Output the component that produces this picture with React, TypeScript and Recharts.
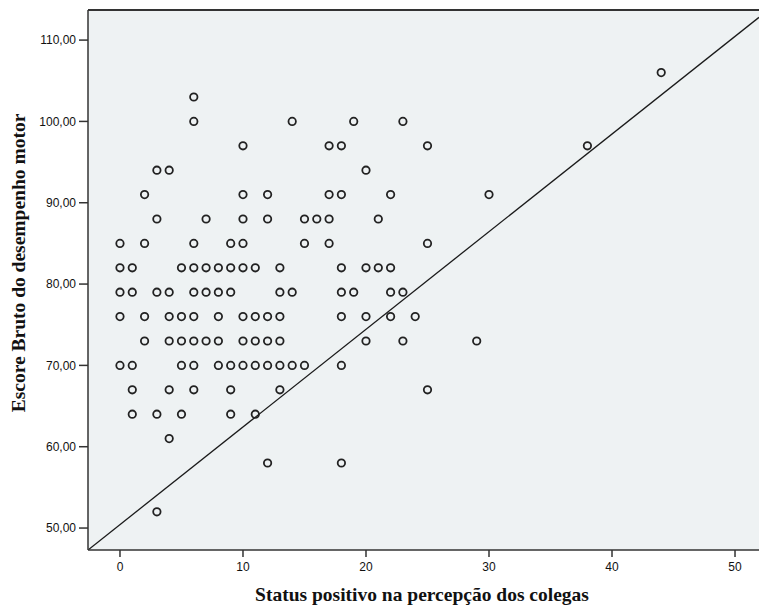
import {
  ScatterChart, Scatter, XAxis, YAxis, CartesianGrid, ReferenceLine, Label,
} from "recharts";

// escore bruto (eixo Y) e status positivo (eixo X)
const scoreLevels = [52, 58, 61, 64, 67, 70, 73, 76, 79, 82, 85, 88, 91, 94, 97, 100, 103, 106];
const statusAtLevel = [
  [3],
  [12, 18],
  [4],
  [1, 3, 5, 9, 11],
  [1, 4, 6, 9, 13, 25],
  [0, 1, 5, 6, 8, 9, 10, 11, 12, 13, 14, 15, 18],
  [2, 4, 5, 6, 7, 8, 10, 11, 12, 13, 20, 23, 29],
  [0, 2, 4, 5, 6, 8, 10, 11, 12, 13, 18, 20, 22, 24],
  [0, 1, 3, 4, 6, 7, 8, 9, 13, 14, 18, 19, 22, 23],
  [0, 1, 5, 6, 7, 8, 9, 10, 11, 13, 18, 20, 21, 22],
  [0, 2, 6, 9, 10, 15, 17, 25],
  [3, 7, 10, 12, 15, 16, 17, 21],
  [2, 10, 12, 17, 18, 22, 30],
  [3, 4, 20],
  [10, 17, 18, 25, 38],
  [6, 14, 19, 23],
  [6],
  [44],
];

const xTicks = [0, 10, 20, 30, 40, 50];
const yTicks = [50, 60, 70, 80, 90, 100, 110];
const xDomain = [-2.6, 51.95];
const yDomain = [47.3, 113.7];

// linha de referência (extremos)
const fitLine = [
  { x: -2.6, y: 47.3 },
  { x: 51.95, y: 112.8 },
];

const points = scoreLevels.flatMap((y, i) => statusAtLevel[i].map((x) => ({ x, y })));

const INK = "#111";
const tickStyle = { fontFamily: "'Liberation Sans', Arial, sans-serif", fontSize: 12, fill: INK };
const titleFont = "'Liberation Serif', 'Times New Roman', serif";

const Ring = (props: any) => (
  <circle cx={props.cx} cy={props.cy} r={3.7} fill="none" stroke="#222" strokeWidth={1.8} />
);

export default function App() {
  return (
    <div style={{ position: "absolute", left: 0, top: 0, background: "#fff" }}>
      <ScatterChart width={759} height={607} margin={{ top: 10, right: 0, bottom: 0, left: 0 }}>
        <CartesianGrid horizontal={false} vertical={false} fill="#eef2f3" />
        <XAxis
          type="number"
          dataKey="x"
          domain={xDomain}
          ticks={xTicks}
          allowDataOverflow
          height={57}
          tick={tickStyle}
          tickSize={7}
          tickMargin={5}
          axisLine={{ stroke: "#333", strokeWidth: 1.5 }}
          tickLine={{ stroke: "#333", strokeWidth: 1.5 }}
        >
          <Label
            content={() => (
              <text x={422} y={601} textAnchor="middle" fontFamily={titleFont} fontWeight="bold" fontSize={19.5} fill={INK}>
                Status positivo na percepção dos colegas
              </text>
            )}
          />
        </XAxis>
        <YAxis
          type="number"
          dataKey="y"
          domain={yDomain}
          ticks={yTicks}
          allowDataOverflow
          width={88}
          tick={tickStyle}
          tickSize={9}
          tickMargin={3}
          tickFormatter={(v: number) => v.toFixed(2).replace(".", ",")}
          axisLine={{ stroke: "#333", strokeWidth: 1.5 }}
          tickLine={{ stroke: "#333", strokeWidth: 1.5 }}
        >
          <Label
            content={() => (
              <text
                x={25}
                y={263}
                textAnchor="middle"
                transform="rotate(-90 25 263)"
                fontFamily={titleFont}
                fontWeight="bold"
                fontSize={19.5}
                fill={INK}
              >
                Escore Bruto do desempenho motor
              </text>
            )}
          />
        </YAxis>
        <ReferenceLine y={yDomain[1]} stroke="#333" strokeWidth={2} />
        <ReferenceLine segment={fitLine} stroke="#1a1a1a" strokeWidth={1.3} ifOverflow="hidden" />
        <Scatter data={points} shape={Ring} isAnimationActive={false} />
      </ScatterChart>
    </div>
  );
}
